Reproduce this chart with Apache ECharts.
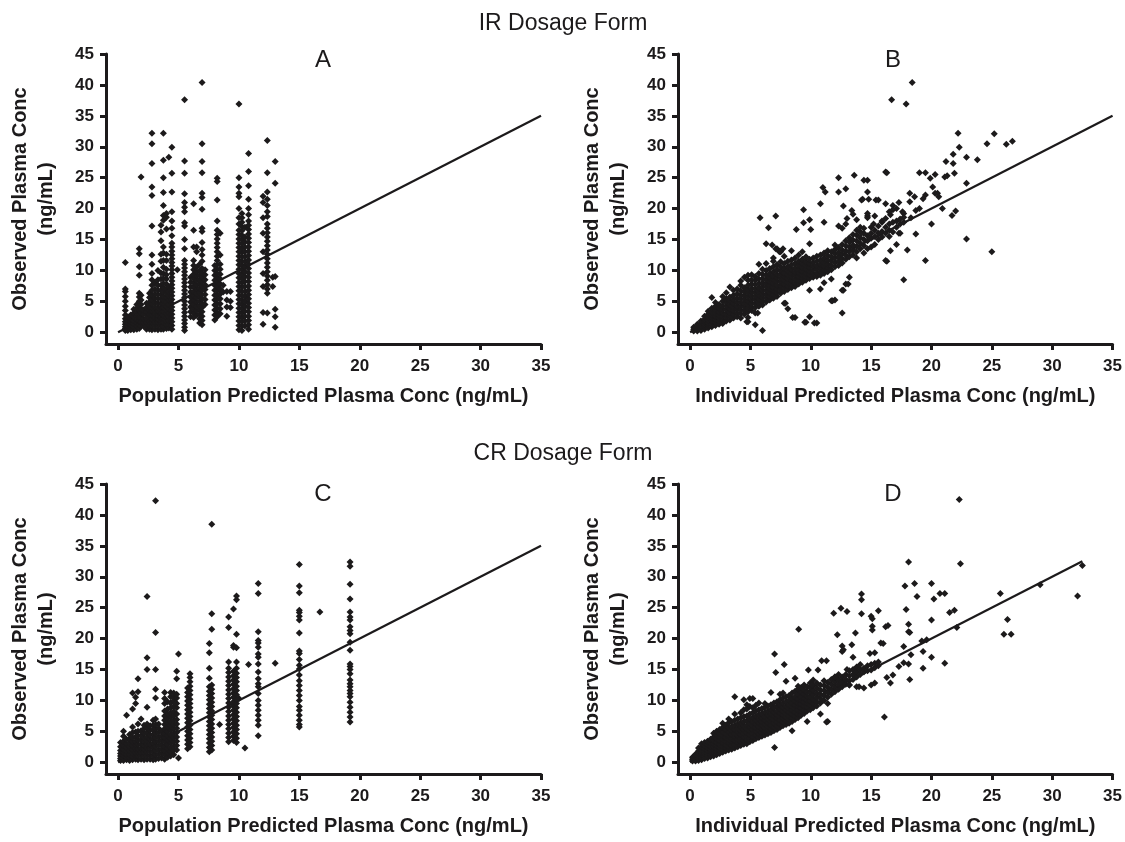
<!DOCTYPE html>
<html>
<head>
<meta charset="utf-8">
<script src="https://cdn.jsdelivr.net/npm/echarts@6/dist/echarts.min.js"></script>
<style>
html,body{margin:0;padding:0;background:#fff;}
#chart{width:1125px;height:842px;}
</style>
</head>
<body>
<div id="chart"></div>
<script>
// ---------- texts / ticks ----------
const sectionTitles = ['IR Dosage Form', 'CR Dosage Form'];
const panelLetters = ['A', 'B', 'C', 'D'];
const xTitles = ['Population Predicted Plasma Conc (ng/mL)', 'Individual Predicted Plasma Conc (ng/mL)',
                 'Population Predicted Plasma Conc (ng/mL)', 'Individual Predicted Plasma Conc (ng/mL)'];
const yTitle = 'Observed Plasma Conc\n(ng/mL)';
const xTicks = [0, 5, 10, 15, 20, 25, 30, 35];
const yTicks = [0, 5, 10, 15, 20, 25, 30, 35, 40, 45];
// identity line end points [start, end] per panel
const identA = [0, 35], identB = [0, 35], identC = [0, 35], identD = [0, 32.5];

// ---------- panel A: population predicted vs observed (IR) ----------
// [predicted, [observed values in that column]]
const colsA = [
 [0.6,[0.3,0.6,0.9,1.3,1.7,2.2,2.8,3.5,4.2,5.0,5.8,6.6,7.0,11.3]],
 [0.8,[0.3,0.7,1.1,1.5,2.0,2.5]],
 [1.05,[0.4,0.8,1.2,1.7,2.2,2.8]],
 [1.3,[0.4,0.9,1.4,1.9,2.5,3.1,3.7]],
 [1.55,[0.5,1.0,1.5,2.0,2.6,3.2,3.9,4.5]],
 [1.75,[0.6,1.2,1.8,2.4,3.0,3.6,4.3,5.0,5.7,6.3,9.2,10.6,12.7,13.5]],
 [1.9,[1.0,1.7,2.4,3.1,3.8,4.5,5.2,6.0,25.1]],
 [2.1,[1.0,1.6,2.2,2.9,3.6]],
 [2.35,[0.5,1.0,1.6,2.2,2.8,3.4,4.0,4.7]],
 [2.6,[0.5,1.1,1.7,2.3,2.9,3.5,4.2,4.9,5.6,6.3]],
 [2.8,[0.4,1.0,1.6,2.2,2.8,3.4,4.0,4.6,5.3,6.0,6.8,7.6,8.5,9.5,11.0,12.5,17.2,22.1,23.5,27.3,30.5,32.2]],
 [3.05,[0.5,1.1,1.7,2.3,2.9,3.5,4.1,4.8,5.5,6.2,7.0,8.0]],
 [3.3,[0.4,1.0,1.6,2.2,2.8,3.4,4.0,4.7,5.4,6.1,6.8,7.6,8.5,10.0]],
 [3.55,[0.5,1.1,1.7,2.3,2.9,3.5,4.1,4.7,5.4,6.1,6.8,7.6,8.6,9.6,11.5,12.6,14.8,16.2,17.3]],
 [3.75,[0.5,1.0,1.6,2.2,2.8,3.4,4.0,4.6,5.2,5.8,6.5,7.2,7.9,8.7,9.5,10.5,11.6,12.8,13.8,18.1,18.9,20.5,22.6,25.0,27.8,32.2]],
 [4.0,[0.6,1.2,1.8,2.4,3.0,3.6,4.2,4.9,5.6,6.3,7.0,7.8,8.6,9.3,10.2,11.6,12.6,16.7,18.6,19.2]],
 [4.2,[0.7,1.3,1.9,2.5,3.1,3.8,4.5,5.2,5.9,6.6,7.4,28.3]],
 [4.45,[0.5,1.1,1.7,2.3,2.9,3.5,4.1,4.7,5.3,5.9,6.5,7.1,7.7,8.3,8.9,9.5,10.1,10.7,11.3,11.9,12.5,13.1,13.8,14.4,15.6,16.8,18.0,19.5,22.7,25.7,29.9]],
 [4.9,[10.1]],
 [5.5,[0.3,0.8,1.4,2.0,2.6,3.2,3.8,4.4,5.0,5.6,6.2,6.8,7.4,8.0,8.6,9.2,9.8,10.4,11.0,11.6,13.5,15.0,17.2,17.7,19.5,20.2,21.0,22.4,25.7,27.7,37.6]],
 [6.0,[2.5,3.3,4.1,4.9,5.7,6.5,7.3,8.1,8.9]],
 [6.25,[2.4,3.1,3.8,4.5,5.2,5.9,6.6,7.3,8.0,8.7,9.4,10.1,10.8,11.6,13.8,16.5,20.8]],
 [6.5,[2.8,3.5,4.2,4.9,5.6,6.3,7.0,7.7,8.4,9.1,9.8,10.5,13.0,13.8]],
 [6.75,[1.5,2.2,2.9,3.6,4.3,5.0,5.7,6.4,7.1,7.8,8.5,9.2,9.9,11.0]],
 [6.95,[1.2,1.9,2.6,3.3,4.0,4.7,5.4,6.1,6.8,7.5,8.2,8.9,9.6,10.3,11.5,12.5,13.4,14.5,16.3,16.8,19.9,21.8,22.5,25.8,27.6,30.5,40.4]],
 [7.2,[4.5,5.3,6.1,6.9,7.7,8.5,9.3,10.1]],
 [8.0,[2.0,2.8,3.6,4.4,5.2,6.0,6.8,7.6,8.4,9.2,10.0,10.8]],
 [8.2,[2.5,3.2,3.9,4.6,5.3,6.0,6.7,7.4,8.1,8.8,9.5,10.2,10.9,11.6,12.3,13.0,13.7,14.4,15.1,15.8,16.5,18.0,21.4,24.4,24.9]],
 [8.45,[3.0,3.8,4.6,5.4,6.2,7.0,7.8,8.6,9.4,10.2,11.0,12.5,16.0]],
 [8.7,[6.5,7.6]],
 [9.0,[2.6,4.1,5.2,6.6]],
 [9.3,[4.0,5.0,6.6]],
 [10.0,[0.4,1.1,1.8,2.5,3.2,3.9,4.6,5.3,6.0,6.7,7.4,8.1,8.8,9.5,10.2,10.9,11.6,12.3,13.0,13.7,14.4,15.1,15.8,16.5,17.5,18.5,20.0,21.9,22.5,23.5,25.0,36.9]],
 [10.25,[0.3,1.0,1.7,2.4,3.1,3.8,4.5,5.2,5.9,6.6,7.3,8.0,8.7,9.4,10.1,10.8,11.5,12.2,12.9,13.6,14.3,15.0,15.7,16.4,17.1,17.8,18.5,19.2]],
 [10.5,[1.0,1.8,2.6,3.4,4.2,5.0,5.8,6.6,7.4,8.2,9.0,9.8,10.6,11.4,12.2,13.0,13.8,14.6,15.4,17.0]],
 [10.8,[0.5,1.2,1.9,2.6,3.3,4.0,4.7,5.4,6.1,6.8,7.5,8.2,8.9,9.6,10.3,11.0,11.7,12.4,13.1,13.8,14.5,15.2,15.9,16.6,17.3,18.0,19.0,20.0,21.5,23.7,26.0,28.9]],
 [12.0,[1.3,3.2,7.4,9.5,13.0,16.0,18.5,21.0,22.0]],
 [12.35,[3.1,6.3,7.0,7.7,8.4,9.1,9.8,10.5,11.2,11.9,12.6,13.3,14.0,14.7,15.4,16.1,16.8,17.5,18.7,19.5,20.5,21.5,22.7,25.8,31.0]],
 [12.8,[7.4,8.9]],
 [13.0,[0.8,2.5,3.7,9.0,24.1,27.6]]
];

// ---------- panel B: individual predicted vs observed (IR) ----------
const colsB = [
 [0.3,[0.2,0.5,0.8]],
 [0.6,[0.2,0.5,0.9,1.3]],
 [0.9,[0.3,0.6,1.0,1.4,1.8]],
 [1.2,[0.5,0.9,1.3,1.7,2.1,2.6]],
 [1.5,[0.7,1.1,1.5,1.9,2.4,2.9,3.4]],
 [1.8,[0.9,1.3,1.8,2.3,2.8,3.3,3.9,5.6]],
 [2.1,[1.1,1.6,2.1,2.6,3.1,3.6,4.2,4.8]],
 [2.4,[1.3,1.8,2.3,2.8,3.3,3.9,4.5]],
 [2.7,[1.4,2.0,2.6,3.1,3.7,4.3,5.0,5.8]],
 [3.0,[1.8,2.4,3.0,3.6,4.2,4.8,5.4,6.4]],
 [3.3,[2.0,2.6,3.2,3.8,4.4,5.0,5.7,7.3]],
 [3.6,[2.3,2.9,3.5,4.1,4.7,5.3,6.0,6.8]],
 [3.9,[2.5,3.1,3.7,4.3,4.9,5.5,6.2,7.0]],
 [4.2,[2.3,3.0,3.6,4.2,4.8,5.4,6.0,6.7,7.6,8.3]],
 [4.5,[2.9,3.5,4.1,4.7,5.3,5.9,6.5,7.2,8.9]],
 [4.8,[1.7,2.4,3.3,3.9,4.5,5.1,5.7,6.3,6.9,7.6,8.4,9.2]],
 [5.1,[3.5,4.1,4.7,5.3,5.9,6.5,7.1,7.8,8.5,9.3]],
 [5.4,[1.2,3.1,4.0,4.6,5.2,5.8,6.4,7.0,7.7,8.4,9.0]],
 [5.7,[4.2,4.8,5.4,6.0,6.6,7.2,7.9,8.6,9.5,11.0]],
 [6.0,[0.3,4.4,5.0,5.6,6.2,6.8,7.4,8.0,8.7,9.4,10.2]],
 [6.3,[4.9,5.5,6.1,6.7,7.3,7.9,8.5,9.2,10.0,11.1,14.3]],
 [6.6,[5.2,5.8,6.4,7.0,7.6,8.2,8.8,9.5,10.3]],
 [6.9,[5.5,6.1,6.7,7.3,7.9,8.5,9.1,9.8,10.6,11.5,12.0]],
 [7.2,[5.8,6.4,7.0,7.6,8.2,8.8,9.4,10.1,10.9,13.5]],
 [7.5,[6.3,6.9,7.5,8.1,8.7,9.3,9.9,10.6,11.4,13.0]],
 [7.8,[4.7,6.6,7.2,7.8,8.4,9.0,9.6,10.3,11.1,12.3]],
 [8.1,[3.8,6.9,7.5,8.1,8.7,9.3,9.9,10.6,11.5]],
 [8.4,[7.2,7.8,8.4,9.0,9.6,10.2,10.9,11.7,13.2]],
 [8.7,[2.4,7.4,8.0,8.6,9.2,9.8,10.4,11.1,12.0]],
 [9.0,[7.8,8.4,9.0,9.6,10.2,10.8,11.5,12.5]],
 [9.3,[8.1,8.7,9.3,9.9,10.5,11.1,11.8,13.0]],
 [9.6,[1.6,8.4,9.0,9.6,10.2,10.8,11.4,12.2]],
 [9.9,[2.5,6.8,8.7,9.3,9.9,10.5,11.1,11.8,14.3]],
 [10.2,[8.9,9.5,10.1,10.7,11.3,12.0]],
 [10.5,[1.5,9.0,9.6,10.2,10.8,11.5,12.3]],
 [10.8,[7.0,9.2,9.8,10.4,11.0,11.7,12.5]],
 [11.1,[8.0,9.5,10.1,10.7,11.3,12.0,12.8]],
 [11.4,[9.8,10.4,11.0,11.7,12.4,13.2]],
 [11.7,[5.1,8.6,10.1,10.8,11.5,12.2,13.0]],
 [12.0,[5.2,10.6,11.3,12.0,12.7,13.4,14.1]],
 [12.3,[10.8,11.5,12.2,12.9,13.7,17.2]],
 [12.6,[3.1,6.8,11.2,11.9,12.6,13.3,14.2,16.8]],
 [12.9,[7.8,11.8,12.5,13.2,14.0,14.8,17.5]],
 [13.2,[8.9,12.2,13.0,13.8,14.6,15.3]],
 [13.5,[12.5,13.3,14.1,14.9,15.8]],
 [13.8,[12.0,13.0,13.9,14.8,15.7,16.5]],
 [14.1,[13.5,14.4,15.3,16.2,17.0]],
 [14.4,[12.8,14.0,15.0,16.0,16.8]],
 [14.7,[13.5,14.8,15.6,18.5,18.8,19.2]],
 [15.0,[13.8,15.2,16.0,17.0]],
 [15.3,[14.2,15.5,16.5,18.8]],
 [15.6,[15.0,16.0,17.2]],
 [15.9,[15.4,16.3,17.8,18.0]],
 [16.2,[16.0,17.0,18.4]],
 [16.5,[15.5,16.5,17.5,19.5]],
 [16.8,[16.2,17.8,19.8,20.5]],
 [17.1,[17.0,18.0,20.0]],
 [17.4,[16.0,17.5,18.3]],
 [17.7,[17.8,18.6,19.2]]
];
const outB = [
 [5.8,18.5],[7.1,18.8],[6.5,16.9],[6.8,14.1],[9.4,19.8],[9.9,18.2],[9.4,17.7],[8.8,16.6],[10.0,16.6],
 [11.0,23.4],[11.2,22.7],[10.8,20.8],[11.1,17.8],[12.3,25.0],[12.3,22.7],[12.9,23.2],[12.7,20.4],
 [13.6,25.4],[13.0,18.4],[14.7,24.6],[14.7,22.7],[14.8,21.5],[14.3,21.5],[15.4,21.4],[16.3,25.8],
 [15.6,21.4],[16.3,11.5],[7.7,13.5],[7.1,13.5],[7.4,13.0],[11.8,5.1],[10.3,1.5],[9.5,1.6],[8.5,2.4],
 [5.6,3.1],[4.7,1.7],[7.9,4.7],[13.1,7.8],[12.7,6.8],
 [16.7,37.6],[17.9,36.9],[18.4,40.4],[22.2,32.2],[25.2,32.1],[24.6,30.5],[26.2,30.4],[26.7,30.9],
 [22.3,29.9],[22.9,28.3],[23.8,27.9],[21.8,28.8],[21.2,27.6],[21.8,27.3],[21.9,25.7],[21.3,25.3],
 [21.1,25.1],[22.9,24.1],[16.2,25.9],[19.0,25.8],[19.5,25.8],[19.9,24.9],[20.3,25.5],[20.1,23.5],
 [20.3,22.5],[20.5,22.5],[18.2,22.5],[18.6,21.9],[19.5,22.2],[20.6,21.9],[19.3,21.6],[18.2,21.1],
 [20.9,20.0],[22.0,19.6],[21.7,18.9],[18.7,19.7],[19.0,20.0],[20.0,17.5],[18.7,15.9],[22.9,15.1],
 [25.0,13.0],[19.5,11.6],[17.7,8.5],[16.2,11.6],[16.6,13.2],[18.0,13.3],[17.1,14.2],[17.3,16.0],
 [16.2,20.8],[16.6,19.0],[17.3,21.0],[17.6,19.5],[18.3,18.5],[15.2,17.5],[14.2,16.0],[13.4,19.7],
 [13.8,18.2],[13.5,19.1],[14.4,24.6],[14.2,21.4]
];

// ---------- panel C: population predicted vs observed (CR) ----------
const colsC = [
 [0.2,[0.3,0.6,1.0,1.4,1.9,2.5,3.2]],
 [0.45,[0.3,0.7,1.1,1.6,2.1,2.7,3.4,4.2,5.0]],
 [0.7,[0.4,0.8,1.3,1.8,2.4,3.0,3.7,7.6]],
 [0.95,[0.3,0.8,1.3,1.9,2.5,3.1,3.8,4.5]],
 [1.2,[0.4,0.9,1.5,2.1,2.7,3.3,4.0,4.8,5.7,8.6,11.2]],
 [1.45,[0.5,1.0,1.6,2.2,2.8,3.4,4.1,4.9,9.5,10.5]],
 [1.65,[0.4,1.0,1.6,2.2,2.9,3.6,4.3,5.0,6.2,11.4,13.5]],
 [1.9,[0.5,1.1,1.7,2.3,2.9,3.6,4.3,5.1,7.0]],
 [2.15,[0.4,1.0,1.6,2.2,2.8,3.4,4.0,4.7,5.4,6.0]],
 [2.4,[0.5,1.1,1.7,2.3,2.9,3.5,4.1,4.8,5.5,6.2,8.9,15.0,16.9,26.8]],
 [2.65,[0.5,1.1,1.7,2.3,3.0,3.7,4.4,5.2,5.9]],
 [2.9,[0.4,1.0,1.7,2.4,3.1,3.8,4.5,5.2,6.0,6.8]],
 [3.1,[0.5,1.2,1.9,2.6,3.3,4.0,4.7,5.4,6.1,7.0,10.4,11.8,15.0,21.0,42.3]],
 [3.35,[0.6,1.3,2.0,2.7,3.4,4.1,4.8,5.5,6.2]],
 [3.6,[0.7,1.4,2.1,2.8,3.5,4.2,5.0]],
 [3.85,[0.5,1.2,1.9,2.6,3.3,4.0,4.7,5.4,6.1,6.8,7.5,8.3,9.5,10.3,11.3]],
 [4.1,[0.8,1.5,2.2,2.9,3.6,4.3,5.0,5.7,6.4,7.1,7.8,8.6,9.8]],
 [4.35,[1.0,1.7,2.4,3.1,3.8,4.5,5.2,5.9,6.6,7.3,8.0,8.8,9.6,10.6,11.3]],
 [4.6,[1.2,1.9,2.6,3.3,4.0,4.7,5.4,6.1,6.8,7.5,8.2,9.0,10.0,10.5,11.2]],
 [4.85,[2.0,2.7,3.4,4.1,4.8,5.5,6.2,6.9,7.8,8.8,9.5,10.4,11.0,13.5,14.7]],
 [5.0,[0.7,17.5]],
 [5.75,[2.2,2.9,3.6,4.3,5.0,5.7,6.4,7.1,7.8,8.5,9.2,9.9,10.6,11.3,12.0]],
 [5.95,[2.5,3.2,3.9,4.6,5.3,6.0,6.7,7.4,8.1,8.8,9.5,10.2,10.9,11.6,12.3,13.0,13.7,14.3]],
 [7.55,[1.7,2.4,3.1,3.8,4.5,5.2,5.9,6.6,7.3,8.0,8.7,9.4,10.1,10.8,11.5,12.2,13.6,15.2,17.7,19.2]],
 [7.75,[2.0,2.7,3.4,4.1,4.8,5.5,6.2,6.9,7.6,8.3,9.0,9.7,10.4,11.1,11.8,12.5,21.5,24.0,38.5]],
 [8.4,[6.1]],
 [9.15,[3.3,4.0,4.7,5.4,6.1,6.8,7.5,8.2,8.9,9.6,10.3,11.0,11.7,12.4,13.1,13.8,14.5,15.2,16.2,21.8,23.5]],
 [9.55,[3.5,4.2,4.9,5.6,6.3,7.0,7.7,8.4,9.1,9.8,10.5,11.2,11.9,12.6,13.3,14.0,14.7,18.6,18.9,24.8]],
 [9.8,[3.2,3.9,4.6,5.3,6.0,6.7,7.4,8.1,8.8,9.5,10.2,10.9,11.6,12.3,13.0,13.7,14.4,15.2,16.2,18.5,20.7,26.3,26.9]],
 [10.0,[10.3]],
 [10.5,[2.3]],
 [10.8,[15.8]],
 [11.6,[4.3,6.0,6.8,7.6,8.4,9.2,10.0,11.1,12.2,12.7,13.5,14.6,15.9,17.0,17.5,18.6,19.3,19.7,21.1,27.3,28.9]],
 [13.0,[16.0]],
 [15.0,[5.7,6.1,6.8,7.6,8.4,9.0,10.0,10.8,11.6,12.4,13.2,14.1,15.1,15.7,16.6,17.6,18.0,20.9,23.0,23.6,24.2,24.6,27.4,28.5,32.0]],
 [16.7,[24.3]],
 [19.2,[6.5,7.3,8.1,8.9,9.7,10.6,11.1,11.6,12.2,12.7,13.3,14.3,15.0,15.5,15.9,18.1,19.4,20.8,21.3,21.9,23.0,23.5,24.3,26.4,28.8,31.7,32.4]]
];

// ---------- panel D: individual predicted vs observed (CR) ----------
const colsD = [
 [0.2,[0.2,0.5,0.8]],
 [0.45,[0.2,0.5,0.9,1.3]],
 [0.7,[0.3,0.6,1.0,1.4,1.8,2.3]],
 [0.95,[0.4,0.8,1.2,1.6,2.0,2.5,3.0]],
 [1.2,[0.6,1.0,1.4,1.8,2.2,2.7,3.2]],
 [1.45,[0.7,1.1,1.5,1.9,2.4,2.9,3.4]],
 [1.7,[0.9,1.3,1.7,2.1,2.6,3.1,3.7]],
 [1.95,[1.0,1.5,2.0,2.5,3.0,3.5,4.1,4.7]],
 [2.2,[1.2,1.7,2.2,2.7,3.2,3.8,4.4,5.0]],
 [2.45,[1.4,1.9,2.4,2.9,3.5,4.1,4.7,5.3]],
 [2.7,[1.6,2.1,2.6,3.1,3.7,4.3,4.9,5.6,6.3]],
 [2.95,[1.8,2.3,2.8,3.4,4.0,4.6,5.3,6.0]],
 [3.2,[2.0,2.5,3.1,3.7,4.3,4.9,5.6,6.4,7.0]],
 [3.45,[2.1,2.7,3.3,3.9,4.5,5.1,5.8,6.6]],
 [3.7,[2.3,2.9,3.5,4.1,4.7,5.3,6.0,6.8,7.8,10.6]],
 [3.95,[2.5,3.1,3.7,4.3,4.9,5.5,6.2,7.0]],
 [4.2,[2.7,3.3,3.9,4.5,5.1,5.7,6.4,7.2,8.0]],
 [4.45,[2.9,3.5,4.1,4.7,5.3,5.9,6.6,7.4,8.5,10.1]],
 [4.7,[3.0,3.6,4.2,4.8,5.4,6.0,6.7,7.5,8.6,9.3]],
 [4.95,[3.3,3.9,4.5,5.1,5.7,6.3,7.0,7.8,9.0,10.3]],
 [5.2,[3.5,4.1,4.7,5.3,5.9,6.5,7.2,8.0,8.8,10.3]],
 [5.45,[3.8,4.4,5.0,5.6,6.2,6.8,7.5,8.3,9.2]],
 [5.7,[4.0,4.6,5.2,5.8,6.4,7.0,7.7,8.5,9.6]],
 [5.95,[4.2,4.8,5.4,6.0,6.6,7.2,7.9,8.7]],
 [6.2,[4.4,5.0,5.6,6.2,6.8,7.4,8.1,8.9,9.5]],
 [6.45,[4.6,5.2,5.8,6.4,7.0,7.6,8.3,9.1]],
 [6.7,[4.8,5.4,6.0,6.6,7.2,7.8,8.5,9.3,11.3]],
 [6.95,[5.1,5.7,6.3,6.9,7.5,8.1,8.8,9.6]],
 [7.2,[5.3,5.9,6.5,7.1,7.7,8.3,9.0,9.8]],
 [7.45,[5.6,6.2,6.8,7.4,8.0,8.6,9.3,10.1,11.0]],
 [7.7,[5.9,6.5,7.1,7.7,8.3,8.9,9.6,10.4,11.2]],
 [7.95,[6.1,6.7,7.3,7.9,8.5,9.1,9.8,10.6,13.1]],
 [8.2,[6.3,6.9,7.5,8.1,8.7,9.3,10.0,10.8]],
 [8.45,[5.1,6.6,7.2,7.8,8.4,9.0,9.6,10.3,11.2]],
 [8.7,[6.9,7.5,8.1,8.7,9.3,9.9,10.6,11.5,13.6]],
 [8.95,[7.2,7.8,8.4,9.0,9.6,10.2,11.0,11.8,12.3]],
 [9.2,[7.6,8.2,8.8,9.4,10.0,10.6,11.3,12.1]],
 [9.45,[7.9,8.5,9.1,9.7,10.3,11.0,11.7,12.5]],
 [9.7,[6.6,8.3,8.9,9.5,10.1,10.7,11.4,12.2]],
 [9.95,[8.5,9.2,9.9,10.6,11.3,12.0,12.8]],
 [10.2,[8.8,9.5,10.2,10.9,11.6,12.4,13.3]],
 [10.5,[9.1,9.8,10.5,11.2,12.0,12.8]],
 [10.8,[7.8,9.6,10.3,11.0,11.7,12.5]],
 [11.1,[10.0,10.8,11.6,12.4,13.2]],
 [11.4,[6.6,9.5,10.5,11.3,12.1,12.9]],
 [11.7,[11.0,11.8,12.6,13.4]],
 [12.0,[11.4,12.2,13.0,13.8]],
 [12.3,[11.8,12.6,13.4,14.2]],
 [12.6,[12.2,13.0,13.8]],
 [12.9,[12.6,13.4,14.2]],
 [13.2,[12.5,13.2,14.0,14.8]],
 [13.5,[13.4,14.2,15.0]],
 [13.8,[12.2,13.8,14.6,15.4]],
 [14.1,[14.2,15.0,15.8]],
 [14.4,[12.0,14.6,15.2]],
 [14.7,[14.8,15.6]],
 [15.0,[12.5,14.9,15.8]],
 [15.3,[12.8,15.3,16.0]],
 [15.6,[15.6,16.2]]
];
const outD = [
 [7.0,17.5],[7.8,15.8],[7.1,14.5],[7.0,2.4],[9.0,21.5],[9.8,14.9],[10.6,14.9],[10.9,16.4],[11.3,16.4],
 [10.1,12.5],[11.3,6.5],[11.9,24.1],[12.5,24.9],[13.0,24.4],[12.2,20.6],[12.6,18.8],[12.6,17.9],
 [12.0,13.8],[12.7,18.2],[13.0,15.0],[13.7,20.9],[13.4,19.0],[13.5,17.0],[14.2,27.2],[14.2,26.3],
 [14.2,24.0],[13.2,12.5],[14.0,12.2],[15.0,23.6],[15.1,23.2],[15.1,22.0],[15.1,21.4],[15.6,24.5],
 [15.3,17.7],[15.8,19.3],[16.2,21.9],[16.4,22.1],[16.1,7.3],[16.6,12.8],[16.3,13.7],[16.8,14.1],
 [17.8,28.5],[18.1,32.4],[18.6,28.9],[17.9,24.7],[18.1,22.3],[18.1,21.1],[18.2,21.0],[17.7,18.7],
 [17.7,16.1],[18.1,15.9],[18.2,13.4],[18.3,17.4],[18.8,26.8],[19.3,17.9],[19.3,15.2],[19.2,19.6],
 [20.0,28.9],[20.2,26.4],[20.0,23.0],[20.0,17.0],[20.7,27.3],[21.1,27.3],[21.1,16.0],[21.5,24.2],
 [21.9,24.6],[22.1,21.8],[22.3,42.5],[22.4,32.1],[25.7,27.3],[26.3,23.1],[26.0,20.7],[26.6,20.7],
 [29.0,28.7],[32.1,26.9],[32.5,31.8],[14.9,17.6],[16.0,19.2],[17.3,15.5],[19.6,19.8]
];

// ---------- build ----------
function flatten(cols) {
  const out = [];
  for (const c of cols) for (const y of c[1]) out.push([c[0], y]);
  return out;
}
const panels = [
  { pts: flatten(colsA), ident: identA },
  { pts: flatten(colsB).concat(outB), ident: identB },
  { pts: flatten(colsC), ident: identC },
  { pts: flatten(colsD).concat(outD), ident: identD }
];

const INK = '#1c1a1b';
const FONT = '"Liberation Sans", Arial, Helvetica, sans-serif';
const gridPos = [
  { left: 106, top: 54 }, { left: 678, top: 54 },
  { left: 106, top: 484 }, { left: 678, top: 484 }
];

const grids = gridPos.map(p => ({ left: p.left, top: p.top, width: 435, height: 290, containLabel: false }));
const xAxes = gridPos.map((p, i) => ({
  gridIndex: i, type: 'value', min: -1, max: 35,
  axisLine: { onZero: false, lineStyle: { color: INK, width: 3 } },
  axisTick: { customValues: xTicks, length: 6, lineStyle: { color: INK, width: 3 } },
  axisLabel: { customValues: xTicks, margin: 14, color: INK, fontSize: 17, fontWeight: 'bold', fontFamily: FONT },
  splitLine: { show: false },
  name: xTitles[i], nameLocation: 'middle', nameGap: 42,
  nameTextStyle: { color: INK, fontSize: 20, fontWeight: 'bold', fontFamily: FONT }
}));
const yAxes = gridPos.map((p, i) => ({
  gridIndex: i, type: 'value', min: -1.9, max: 45,
  axisLine: { onZero: false, lineStyle: { color: INK, width: 3 } },
  axisTick: { customValues: yTicks, length: 6, lineStyle: { color: INK, width: 3 } },
  axisLabel: { customValues: yTicks, margin: 12, color: INK, fontSize: 17, fontWeight: 'bold', fontFamily: FONT },
  splitLine: { show: false },
  name: yTitle, nameLocation: 'middle', nameGap: 47, nameRotate: 90,
  nameTextStyle: { color: INK, fontSize: 20, fontWeight: 'bold', fontFamily: FONT, lineHeight: 26, align: 'center' }
}));

const series = [];
panels.forEach((pn, i) => {
  series.push({
    type: 'line', xAxisIndex: i, yAxisIndex: i,
    data: [[pn.ident[0], pn.ident[0]], [pn.ident[1], pn.ident[1]]],
    symbol: 'none', lineStyle: { color: INK, width: 2.2 }, silent: true, z: 1
  });
  series.push({
    type: 'scatter', xAxisIndex: i, yAxisIndex: i, data: pn.pts,
    symbol: 'diamond', symbolSize: [7, 7],
    itemStyle: { color: INK, opacity: 1 }, silent: true, z: 2
  });
});

const letterPos = [[323, 60], [893, 60], [323, 494], [893, 494]];
const graphics = [
  { type: 'text', x: 563, y: 24, style: { text: sectionTitles[0], font: '23px ' + FONT, fill: INK, textAlign: 'center', textVerticalAlign: 'middle' } },
  { type: 'text', x: 563, y: 454, style: { text: sectionTitles[1], font: '23px ' + FONT, fill: INK, textAlign: 'center', textVerticalAlign: 'middle' } }
].concat(letterPos.map((p, i) => ({
  type: 'text', x: p[0], y: p[1],
  style: { text: panelLetters[i], font: '24px ' + FONT, fill: INK, textAlign: 'center', textVerticalAlign: 'middle' }
})));

const chart = echarts.init(document.getElementById('chart'), null, { renderer: 'canvas' });
chart.setOption({
  backgroundColor: '#ffffff',
  animation: false,
  grid: grids, xAxis: xAxes, yAxis: yAxes,
  series: series,
  graphic: graphics
});
</script>
</body>
</html>
